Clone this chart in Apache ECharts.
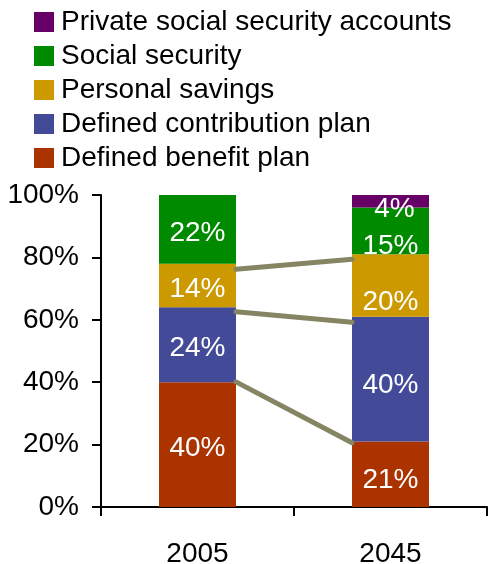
<!DOCTYPE html>
<html>
<head>
<meta charset="utf-8">
<script src="https://cdn.jsdelivr.net/npm/echarts@6/dist/echarts.min.js"></script>
<style>
  html, body { margin: 0; padding: 0; background: #ffffff; }
  #chart { width: 489px; height: 564px; }
</style>
</head>
<body>
<div id="chart"></div>
<script>
// Retirement income sources, share of total (%)
const categories = ['2005', '2045'];
const definedBenefit = [40, 21];
const definedContribution = [24, 40];
const personalSavings = [14, 20];
const socialSecurity = [22, 15];
const privateAccounts = [null, 4];

// Connector lines between the two bars (% level at each end)
const connectorStart = [40.1, 62.6, 76.2];
const connectorEnd = [20.6, 59.2, 79.4];

// Value axis ticks
const yMin = 0, yMax = 100, yStep = 20;

const FONT = 'Liberation Sans, Arial, Helvetica, sans-serif';
const BAR_W = 77;

const colors = {
  'Defined benefit plan': '#AA3300',
  'Defined contribution plan': '#434A98',
  'Personal savings': '#CC9900',
  'Social security': '#008A00',
  'Private social security accounts': '#660066'
};

function barSeries(name, data, labelOffsets) {
  return {
    name: name,
    type: 'bar',
    stack: 'total',
    barWidth: BAR_W,
    data: data.map(function (v, i) {
      return {
        value: v == null ? '-' : v,
        label: { offset: labelOffsets[i] }
      };
    }),
    itemStyle: { color: colors[name] },
    label: {
      show: true,
      position: 'inside',
      formatter: '{c}%',
      color: '#ffffff',
      fontFamily: FONT,
      fontSize: 28
    }
  };
}

const chart = echarts.init(document.getElementById('chart'), null, { renderer: 'canvas' });

chart.setOption({
  animation: false,
  backgroundColor: '#ffffff',
  textStyle: { fontFamily: FONT },
  legend: {
    orient: 'vertical',
    left: 34,
    top: 7,
    padding: 0,
    itemWidth: 20,
    itemHeight: 20,
    itemGap: 4,
    icon: 'rect',
    selectedMode: false,
    data: [
      'Private social security accounts',
      'Social security',
      'Personal savings',
      'Defined contribution plan',
      'Defined benefit plan'
    ],
    textStyle: {
      fontFamily: FONT,
      fontSize: 28,
      lineHeight: 30,
      color: '#000000',
      padding: [0, 0, 0, 2]
    }
  },
  grid: { left: 101, right: 2, top: 195, bottom: 57, containLabel: false, outerBoundsMode: 'none' },
  xAxis: [{
    type: 'category',
    data: categories,
    axisLine: { show: true, lineStyle: { color: '#000000', width: 2 } },
    axisTick: { show: true, length: 9, lineStyle: { color: '#000000', width: 2 } },
    axisLabel: { color: '#000000', fontFamily: FONT, fontSize: 28, margin: 33 },
    splitLine: { show: false }
  }],
  yAxis: [{
    type: 'value',
    min: yMin,
    max: yMax,
    interval: yStep,
    axisLine: { show: true, lineStyle: { color: '#000000', width: 2 } },
    axisTick: { show: true, length: 9, lineStyle: { color: '#000000', width: 2 } },
    axisLabel: { color: '#000000', fontFamily: FONT, fontSize: 28, margin: 22, formatter: '{value}%' },
    splitLine: { show: false }
  }],
  series: [
    barSeries('Defined benefit plan', definedBenefit, [[0, 4], [0, 6]]),
    barSeries('Defined contribution plan', definedContribution, [[0, 4], [0, 6]]),
    barSeries('Personal savings', personalSavings, [[0, 4], [0, 17]]),
    barSeries('Social security', socialSecurity, [[0, 4], [0, 15]]),
    barSeries('Private social security accounts', privateAccounts, [[0, 4], [4, 8]]),
    {
      type: 'custom',
      name: 'connectors',
      z: 10,
      silent: true,
      encode: { x: 0, y: [1, 2] },
      data: connectorStart.map(function (s, i) { return [0, s, connectorEnd[i]]; }),
      renderItem: function (params, api) {
        const p0 = api.coord([0, api.value(1)]);
        const p1 = api.coord([1, api.value(2)]);
        const half = BAR_W / 2;
        return {
          type: 'line',
          shape: { x1: p0[0] + half, y1: p0[1], x2: p1[0] - half, y2: p1[1] },
          style: { stroke: '#858564', lineWidth: 5, lineCap: 'round' }
        };
      }
    }
  ]
});
</script>
</body>
</html>
